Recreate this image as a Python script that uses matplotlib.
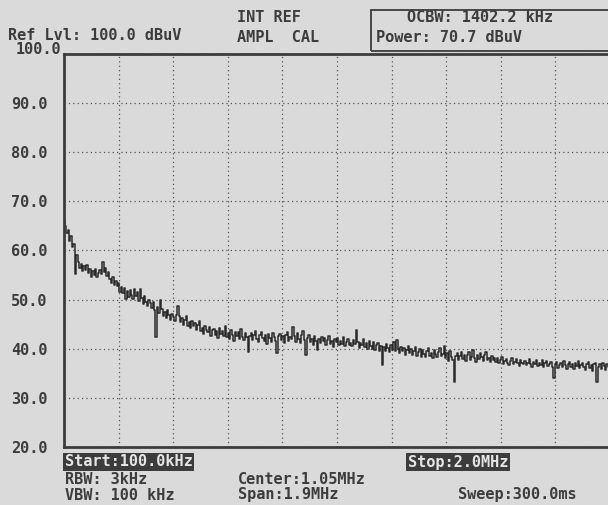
#!/usr/bin/env python3

import numpy as np
import matplotlib.pyplot as plt
from matplotlib.patches import Rectangle

plt.rcParams.update({'font.family': 'DejaVu Sans Mono', 'font.size': 11,
                     'font.weight': 'bold'})

# spectrum trace, dBuV (100 kHz .. 2.0 MHz)
trace = [
    66.2, 65.0, 63.6, 64.2, 62.0, 63.0, 60.8, 61.4, 55.2, 59.0,
    57.6, 56.4, 57.2, 55.8, 56.8, 56.0, 57.0, 55.4, 56.2, 54.6,
    55.8, 55.0, 56.2, 54.6, 55.4, 56.0, 55.2, 57.7, 55.6, 56.4,
    54.8, 55.6, 54.2, 53.4, 54.6, 53.0, 53.8, 52.8, 53.4, 51.6,
    52.6, 51.3, 52.4, 50.2, 51.8, 50.6, 52.0, 51.0, 50.1, 52.2,
    50.8, 51.6, 49.8, 52.2, 50.4, 49.2, 50.8, 49.6, 48.8, 50.0,
    49.4, 48.2, 49.6, 47.8, 42.4, 48.4, 47.2, 50.0, 48.0, 46.6,
    47.4, 46.2, 47.8, 46.8, 45.8, 47.0, 46.4, 45.6, 46.8, 48.7,
    46.6, 45.4, 46.2, 44.8, 45.8, 46.6, 44.6, 45.4, 44.2, 45.6,
    44.6, 45.2, 43.8, 44.8, 45.6, 43.6, 44.2, 43.0, 44.6, 43.8,
    43.4, 44.4, 42.6, 43.8, 44.0, 42.8, 43.6, 42.2, 44.2, 43.0,
    43.6, 42.6, 44.6, 42.4, 43.2, 42.0, 43.8, 42.8, 41.6, 43.4,
    42.6, 43.4, 42.0, 44.0, 42.4, 41.8, 43.2, 42.4, 39.3, 42.6,
    43.2, 41.8, 42.8, 43.6, 42.0, 41.4, 42.8, 43.4, 42.2, 41.6,
    42.8, 41.0, 43.0, 42.2, 41.4, 43.2, 42.4, 41.6, 39.2, 42.6,
    43.0, 41.8, 42.6, 41.2, 42.8, 43.4, 41.6, 42.4, 42.0, 44.4,
    42.6, 41.4, 43.2, 42.0, 41.2, 42.8, 43.6, 41.8, 38.7, 42.2,
    42.8, 41.4, 42.0, 40.8, 42.6, 41.6, 39.8, 42.0, 41.2, 42.4,
    41.6, 42.2, 40.8, 41.8, 42.6, 41.0, 41.6, 40.4, 42.0, 41.4,
    42.2, 40.8, 41.6, 41.0, 42.4, 40.6, 41.4, 42.0, 40.8, 41.2,
    40.6, 41.8, 41.0, 43.8, 41.4, 40.2, 41.2, 40.8, 42.0, 40.4,
    41.2, 40.0, 41.6, 40.6, 40.0, 41.4, 39.8, 40.8, 41.2, 39.6,
    40.6, 36.7, 40.4, 39.6, 41.0, 40.2, 39.4, 40.8, 39.8, 41.4,
    39.6, 41.8, 40.0, 39.2, 40.4, 39.6, 40.2, 38.8, 39.8, 40.6,
    39.2, 40.0, 38.8, 39.6, 40.4, 38.6, 39.4, 40.0, 38.4, 39.8,
    39.0, 38.4, 39.6, 40.2, 38.6, 39.2, 38.2, 39.8, 39.0, 38.4,
    39.4, 40.2, 38.6, 39.0, 40.6, 38.2, 39.2, 37.6, 39.6, 38.4,
    37.8, 33.2, 38.6, 39.2, 37.8, 38.6, 39.4, 38.0, 38.8, 37.6,
    38.8, 39.4, 37.8, 38.4, 39.8, 38.2, 37.4, 38.8, 38.0, 39.2,
    38.4, 37.6, 38.8, 39.4, 37.8, 38.2, 37.4, 38.6, 37.8, 38.2,
    37.4, 38.2, 37.0, 37.8, 38.4, 36.8, 37.6, 38.0, 37.2, 36.6,
    37.6, 38.2, 36.8, 37.4, 38.0, 37.0, 36.4, 37.8, 37.2, 36.8,
    37.6, 36.6, 37.2, 38.0, 36.8, 36.2, 37.4, 36.8, 37.8, 36.4,
    37.2, 36.6, 37.8, 36.2, 37.0, 37.6, 36.4, 36.8, 37.4, 36.2,
    34.0, 36.8, 37.4, 36.0, 36.6, 37.2, 36.2, 37.6, 36.6, 35.8,
    36.8, 37.4, 36.2, 36.8, 35.8, 37.0, 36.4, 37.6, 36.0, 36.6,
    37.2, 36.2, 35.6, 36.8, 37.4, 36.0, 36.6, 35.4, 36.8, 37.0,
    33.2, 36.2, 36.8, 35.8, 37.0, 36.4, 35.6, 36.8, 36.2, 36.6,
]
f_start, f_stop = 0.1, 2.0   # MHz
levels = [20, 30, 40, 50, 60, 70, 80, 90, 100]
level_labels = ['20.0', '30.0', '40.0', '50.0', '60.0', '70.0', '80.0', '90.0', '100.0']

bg = '#dadada'
ink = '#3c3c3c'

W, H = 608, 505
fig = plt.figure(figsize=(W / 100, H / 100), dpi=100, facecolor=bg)

def px(x, y):
    return x / W, 1 - y / H

# plot area: x 64..610, y 54..447 pixels
ax = fig.add_axes([64 / W, 1 - 447 / H, 546 / W, 393 / H], facecolor=bg)

freq = np.linspace(f_start, f_stop, len(trace))
ax.plot(freq, trace, color='#2a2a2a', lw=1.1, drawstyle='steps-mid')

ax.set_xlim(f_start, f_stop)
ax.set_ylim(20, 100)
ax.set_xticks(np.linspace(f_start, f_stop, 11))
ax.set_xticklabels([])
ax.set_yticks(levels)
ax.set_yticklabels(level_labels[:-1] + [''])
ax.tick_params(length=0, pad=12, labelsize=11, labelcolor=ink)
ax.grid(True, color='#555555', lw=0.9, linestyle=(0, (1, 2.5)))

for s in ['left', 'top', 'bottom']:
    ax.spines[s].set_linewidth(2)
    ax.spines[s].set_color(ink)
ax.spines['right'].set_visible(False)

fig.text(*px(61, 50), '100.0', ha='right', va='center', color=ink, fontsize=11)

# header
fig.text(*px(8, 36), 'Ref Lvl: 100.0 dBuV', ha='left', va='center', color=ink)
fig.text(*px(237, 17), 'INT REF', ha='left', va='center', color=ink)
fig.text(*px(237, 37), 'AMPL  CAL', ha='left', va='center', color=ink)
fig.patches.append(Rectangle(px(371, 51), (W + 10 - 371) / W, 41 / H,
                             transform=fig.transFigure, fill=False,
                             ec=ink, lw=1.3, clip_on=False))
fig.text(*px(407, 18), 'OCBW: 1402.2 kHz', ha='left', va='center', color=ink)
fig.text(*px(376, 38), 'Power: 70.7 dBuV', ha='left', va='center', color=ink)

# footer
hl = dict(boxstyle='square,pad=0.1', fc=ink, ec='none')
fig.text(*px(65, 462), 'Start:100.0kHz', ha='left', va='center', color='#e6e6e6', bbox=hl)
fig.text(*px(408, 462), 'Stop:2.0MHz', ha='left', va='center', color='#e6e6e6', bbox=hl)
fig.text(*px(65, 479), 'RBW: 3kHz', ha='left', va='center', color=ink)
fig.text(*px(65, 495), 'VBW: 100 kHz', ha='left', va='center', color=ink)
fig.text(*px(238, 479), 'Center:1.05MHz', ha='left', va='center', color=ink)
fig.text(*px(238, 495), 'Span:1.9MHz', ha='left', va='center', color=ink)
fig.text(*px(458, 495), 'Sweep:300.0ms', ha='left', va='center', color=ink)

plt.savefig('out.png', dpi=100, facecolor=bg)
plt.close()
